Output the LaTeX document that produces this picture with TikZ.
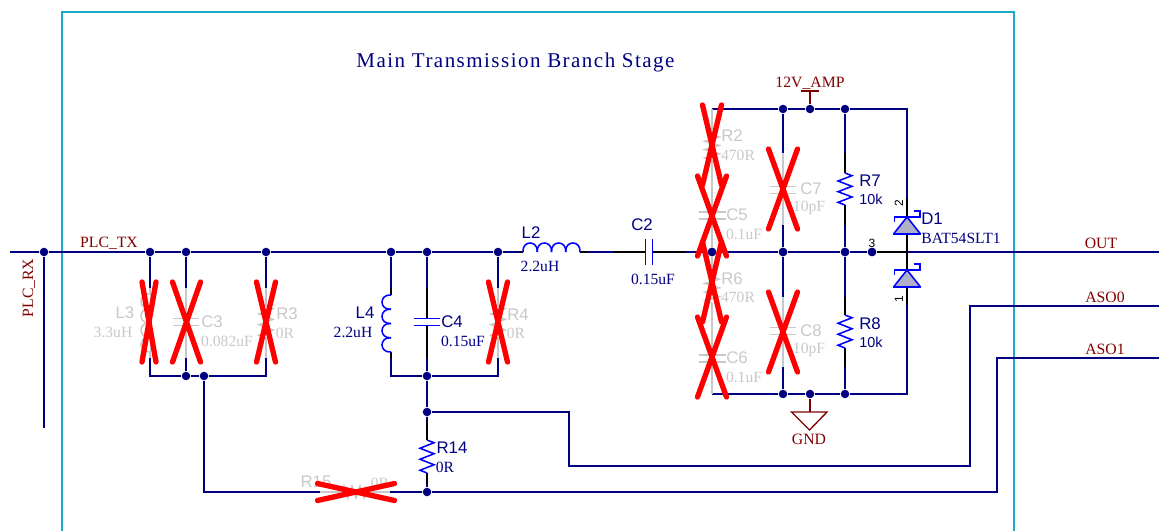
\documentclass[tikz,border=0pt]{standalone}
\usepackage{fontspec}
\setmainfont{Liberation Serif}
\setsansfont{Liberation Sans}
\newfontfamily\ttlfont[LetterSpace=7]{Liberation Serif}
\definecolor{wirec}{HTML}{000080}
\definecolor{compc}{HTML}{0000FF}
\definecolor{ghost}{HTML}{C8C8C8}
\definecolor{portc}{HTML}{800000}
\definecolor{framec}{HTML}{1CA8C8}
\definecolor{fillc}{HTML}{B0B0C8}
\tikzset{
  wire/.style={draw=wirec,line width=1.15pt},
  stub/.style={draw=black,line width=1.15pt},
  gwire/.style={draw=ghost,line width=1.15pt},
  cbody/.style={draw=compc,line width=1.15pt},
  gbody/.style={draw=ghost,line width=1.15pt},
  pwr/.style={draw=portc,line width=1pt},
  dot/.style={circle,fill=wirec,draw=none,minimum size=6.4pt,inner sep=0pt},
  redx/.style={draw=red,line width=4pt,line cap=round},
  txt/.style={inner sep=0pt,anchor=center},
  refd/.style={txt,font=\sffamily\fontsize{12.6}{12.6}\selectfont,text=wirec},
  vald/.style={txt,font=\rmfamily\fontsize{11.7}{11.7}\selectfont,text=wirec},
  kval/.style={txt,font=\sffamily\fontsize{10.8}{10.8}\selectfont,text=wirec},
  grefd/.style={refd,text=ghost},
  gvald/.style={vald,text=ghost},
  portl/.style={txt,font=\rmfamily\fontsize{11.8}{11.8}\selectfont,text=portc},
  pinl/.style={txt,font=\sffamily\fontsize{9}{9}\selectfont,text=black},
}
% vertical zigzag: style, x, y1, y2
\newcommand\vzig[4]{%
  \pgfmathsetmacro\zd{(#4-#3)/6}%
  \draw[#1] (#2,#3) -- ++(7,\zd/2) -- ++(-14,\zd) -- ++(14,\zd) -- ++(-14,\zd) -- ++(14,\zd) -- ++(-14,\zd) -- ++(7,\zd/2);}
% vertical coil bulging left: style, x, y1, y2
\newcommand\vcoil[4]{%
  \pgfmathsetmacro\zd{(#4-#3)/4}%
  \foreach \i in {0,1,2,3}{%
    \pgfmathsetmacro\za{#3+\i*\zd}\pgfmathsetmacro\zb{\za+\zd}%
    \draw[#1] (#2,\za) .. controls (#2-12,\za-1) and (#2-12,\zb+1) .. (#2,\zb);}}
% horizontal coil bulging up: style, y, x1, x2
\newcommand\hcoil[4]{%
  \pgfmathsetmacro\zd{(#4-#3)/4}%
  \foreach \i in {0,1,2,3}{%
    \pgfmathsetmacro\za{#3+\i*\zd}\pgfmathsetmacro\zb{\za+\zd}%
    \draw[#1] (\za,#2) .. controls (\za-1,#2-12) and (\zb+1,#2-12) .. (\zb,#2);}}
% vertical capacitor plates: style, x, y-centre, half width
\newcommand\vcap[4]{%
  \draw[#1] (#2-#4,#3-3.5) -- (#2+#4,#3-3.5) (#2-#4,#3+3.5) -- (#2+#4,#3+3.5);}
% red cross: x, y, half width, half height
\newcommand\rcross[4]{%
  \draw[redx] (#1-#3,#2-#4) -- (#1+#3,#2+#4) (#1+#3,#2-#4) -- (#1-#3,#2+#4);}
% diode, apex up: x, apex y
\newcommand\dio[2]{%
  \draw[cbody,fill=fillc,line join=round] (#1,#2) -- (#1+13.5,#2+17) -- (#1-13.5,#2+17) -- cycle;
  \draw[cbody] (#1-12.5,#2+5) -- (#1-12.5,#2) -- (#1+13,#2) -- (#1+13,#2-6) -- (#1+7,#2-6);}
\begin{document}
\begin{tikzpicture}[x=0.75pt,y=-0.75pt]
\useasboundingbox (0,0) rectangle (1159,531);
% frame
\draw[draw=framec,line width=1.4pt] (62,531) -- (62,12) -- (1014,12) -- (1014,531);
% junctions
\foreach \n/\x/\y in {jrx/44/252,j1/150/252,j2/186/252,j3/266/252,j4/391/252,j5/427/252,j6/498/252,
  j7/186/376,j8/204/376,j9/427/376,j10/427/412,j11/427/492,
  j12/712/252,j13/783/252,j14/845/252,j15/872/252,
  j16/783/109,j17/810/109,j18/845/109,
  j19/783/394,j20/810/394,j21/845/394}{\node[dot] (\n) at (\x,\y) {};}
% free ends and corners
\foreach \n/\x/\y in {wl/10/252,wr/1159/252,rxe/44/428,
  c1/150/376,c2/266/376,c3/391/376,c4/498/376,
  t1/712/109,t2/907/109,b1/712/394,b2/907/394,
  k1/204/492,k2/569/412,k3/569/466,k4/970/466,k5/970/306,aso0/1159/306,
  k6/997/492,k7/997/358,aso1/1159/358,
  tj/907/252,
  L2a/520/252,L2b/523/252,L2c/580/252,L2d/587/252,
  C2a/614/252,C2b/645.5/252,C2c/652.5/252,C2d/685/252,
  L3a/150/288,L3d/150/358,C3a/186/288,C3d/186/358,R3a/266/288,R3d/266/358,
  L4a/391/288,L4b/391/295,L4c/391/352,L4d/391/358,
  C4a/427/288,C4b/427/318.5,C4c/427/325.5,C4d/427/358,
  R4a/498/288,R4d/498/358,
  R14a/427/420,R14b/427/440,R14c/427/473,R14d/427/484,
  R15a/320/492,R15b/390/492,
  C7a/783/153,C7d/783/225,C8a/783/297,C8d/783/367,
  R7a/845/153,R7b/845/173,R7c/845/205,R7d/845/225,
  R8a/845/297,R8b/845/315,R8c/845/348,R8d/845/367,
  D2a/907/198,D2b/907/217,D2c/907/234,
  D1a/907/270,D1b/907/287,D1c/907/305,
  vt/810/91,gt/810/412}{\coordinate (\n) at (\x,\y);}
% navy wires
\draw[wire] (wl) -- (jrx) -- (j1) -- (j2) -- (j3) -- (j4) -- (j5) -- (j6) -- (L2a);
\draw[wire] (L2d) -- (C2a);
\draw[wire] (C2d) -- (j12) -- (j13) -- (j14) -- (j15);
\draw[wire] (tj) -- (wr);
\draw[wire] (jrx) -- (rxe);
\draw[wire] (j1) -- (L3a) (L3d) -- (c1) -- (j7) -- (j8) -- (c2) -- (R3d) (R3a) -- (j3);
\draw[wire] (j2) -- (C3a) (C3d) -- (j7);
\draw[wire] (j8) -- (k1) -- (R15a) (R15b) -- (j11) -- (k6) -- (k7) -- (aso1);
\draw[wire] (j4) -- (L4a) (L4d) -- (c3) -- (j9) -- (c4) -- (R4d) (R4a) -- (j6);
\draw[wire] (j5) -- (C4a) (C4d) -- (j9) -- (j10) -- (R14a) (R14d) -- (j11);
\draw[wire] (j10) -- (k2) -- (k3) -- (k4) -- (k5) -- (aso0);
\draw[wire] (t1) -- (j16) -- (j17) -- (j18) -- (t2) -- (D2a);
\draw[wire] (b1) -- (j19) -- (j20) -- (j21) -- (b2) -- (D1c);
\draw[wire] (j16) -- (C7a) (C7d) -- (j13) -- (C8a) (C8d) -- (j19);
\draw[wire] (j18) -- (R7a) (R7d) -- (j14) -- (R8a) (R8d) -- (j21);
% black pin stubs
\draw[stub] (L2a) -- (L2b) (L2c) -- (L2d) (C2a) -- (C2b) (C2c) -- (C2d);
\draw[stub] (L4a) -- (L4b) (L4c) -- (L4d) (C4a) -- (C4b) (C4c) -- (C4d);
\draw[stub] (R14a) -- (R14b) (R14c) -- (R14d);
\draw[stub] (R7a) -- (R7b) (R7c) -- (R7d) (R8a) -- (R8b) (R8c) -- (R8d);
\draw[stub] (D2a) -- (D2b) (D2c) -- (tj) -- (D1a) (D1b) -- (D1c) (j15) -- (tj);
% live component bodies
\hcoil{cbody}{252}{523}{580}
\draw[cbody] (645.5,239) -- (645.5,265) (652.5,239) -- (652.5,265);
\vcoil{cbody}{391}{295}{352}
\vcap{cbody}{427}{322}{13}
\vzig{cbody}{427}{440}{473}
\vzig{cbody}{845}{173}{205}
\vzig{cbody}{845}{315}{348}
\dio{907}{217}
\dio{907}{270}
% ghost (not fitted) parts
\draw[gwire] (L3a) -- (L3d);
\fill[white] (139,293) rectangle (150.4,353);
\vcoil{gbody}{150}{294}{352}
\draw[gwire] (C3a) -- (C3d);
\fill[white] (172,319) rectangle (200,325);
\vcap{gbody}{186}{322}{13}
\draw[gwire] (R3a) -- (266,306) (266,338) -- (R3d);
\vzig{gbody}{266}{306}{338}
\draw[gwire] (R4a) -- (498,306) (498,338) -- (R4d);
\vzig{gbody}{498}{306}{338}
\draw[gwire] (R15a) -- (R15b);
\draw[gbody] (342,492) -- ++(2,-6) -- ++(4,12) -- ++(4,-12) -- ++(4,12) -- ++(4,-12) -- ++(4,12) -- ++(2,-6);
\draw[gwire] (t1) -- (712,135) (712,160) -- (712,213) (712,220) -- (712,277) (712,303) -- (712,355) (712,362) -- (b1);
\vzig{gbody}{712}{135}{160}
\vzig{gbody}{712}{277}{303}
\vcap{gbody}{712}{215.5}{13.5}
\vcap{gbody}{712}{358.5}{13.5}
\draw[gwire] (C7a) -- (783,186.5) (783,193.5) -- (C7d);
\vcap{gbody}{783}{190}{13}
\draw[gwire] (C8a) -- (783,327.5) (783,334.5) -- (C8d);
\vcap{gbody}{783}{331}{13}
% power symbols
\draw[pwr] (j17) -- (vt);
\draw[pwr] (800.5,91) -- (819,91);
\draw[pwr] (j20) -- (gt);
\draw[pwr] (791.5,412) -- (827,412) -- (809.5,430) -- cycle;
% junction dots again, on top of pins
\foreach \n in {j12,j13,j14,j15}{\fill[wirec] (\n) circle (4.2);}
% labels
\node[txt,font=\ttlfont\fontsize{15.75}{15.75}\selectfont,text=wirec] (title) at (515.5,62.5) {Main Transmission Branch Stage};
\node[portl] (lrx) at (29,288) [rotate=90] {PLC\_RX};
\node[portl] (ltx) at (109,243.5) {PLC\_TX};
\node[portl] (lvcc) at (810,83) {12V\_AMP};
\node[portl] (lgnd) at (809,439) {GND};
\node[portl] (lout) at (1101,243) {OUT};
\node[portl] (la0) at (1105,297) {ASO0};
\node[portl] (la1) at (1105,349) {ASO1};
\node[grefd] (rL3) at (125,313) {L3};
\node[gvald] (vL3) at (113,332) {3.3uH};
\node[grefd] (rC3) at (212,322) {C3};
\node[gvald] (vC3) at (227,341) {0.082uF};
\node[grefd] (rR3) at (287,314) {R3};
\node[gvald] (vR3) at (285,333) {0R};
\node[refd] (rL4) at (365,313) {L4};
\node[vald] (vL4) at (353,332) {2.2uH};
\node[refd] (rC4) at (452,322) {C4};
\node[vald] (vC4) at (463,341) {0.15uF};
\node[grefd] (rR4) at (518,315) {R4};
\node[gvald] (vR4) at (516,333) {0R};
\node[refd] (rL2) at (531,233) {L2};
\node[vald] (vL2) at (540,266) {2.2uH};
\node[refd] (rC2) at (642,225) {C2};
\node[vald] (vC2) at (653,279) {0.15uF};
\node[refd] (rR14) at (452,448) {R14};
\node[vald] (vR14) at (445,467) {0R};
\node[grefd] (rR15) at (316,482) {R15};
\node[gvald] (vR15) at (380,483) {0R};
\node[grefd] (rR2) at (732,136) {R2};
\node[gvald] (vR2) at (738,155) {470R};
\node[grefd] (rC5) at (737,215) {C5};
\node[gvald] (vC5) at (744,234) {0.1uF};
\node[grefd] (rR6) at (732,279) {R6};
\node[gvald] (vR6) at (738,297) {470R};
\node[grefd] (rC6) at (737,358) {C6};
\node[gvald] (vC6) at (744,377) {0.1uF};
\node[grefd] (rC7) at (811,189) {C7};
\node[gvald] (vC7) at (809,208) {10pF};
\node[grefd] (rC8) at (811,331) {C8};
\node[gvald] (vC8) at (809,350) {10pF};
\node[refd] (rR7) at (870,181) {R7};
\node[kval] (vR7) at (871,199) {10k};
\node[refd] (rR8) at (870,324) {R8};
\node[kval] (vR8) at (871,342) {10k};
\node[refd] (rD1) at (932,219) {D1};
\node[vald] (vD1) at (961,238) {BAT54SLT1};
\node[pinl,rotate=90] (p2) at (899,203) {2};
\node[pinl,rotate=90] (p1) at (899,299) {1};
\node[pinl] (p3) at (872,243) {3};
% red crosses
\rcross{149}{322}{7}{40}
\rcross{186.5}{322}{14}{40}
\rcross{266}{322}{9.5}{40}
\rcross{498}{322}{9.5}{40}
\rcross{712}{145}{9.5}{40}
\rcross{712}{216}{14.5}{40}
\rcross{712}{282}{9.5}{40}
\rcross{712}{357}{14.5}{40}
\rcross{783}{189}{14.5}{40}
\rcross{783}{332}{14.5}{40}
\rcross{356}{492}{38.5}{8.5}
\end{tikzpicture}
\end{document}
